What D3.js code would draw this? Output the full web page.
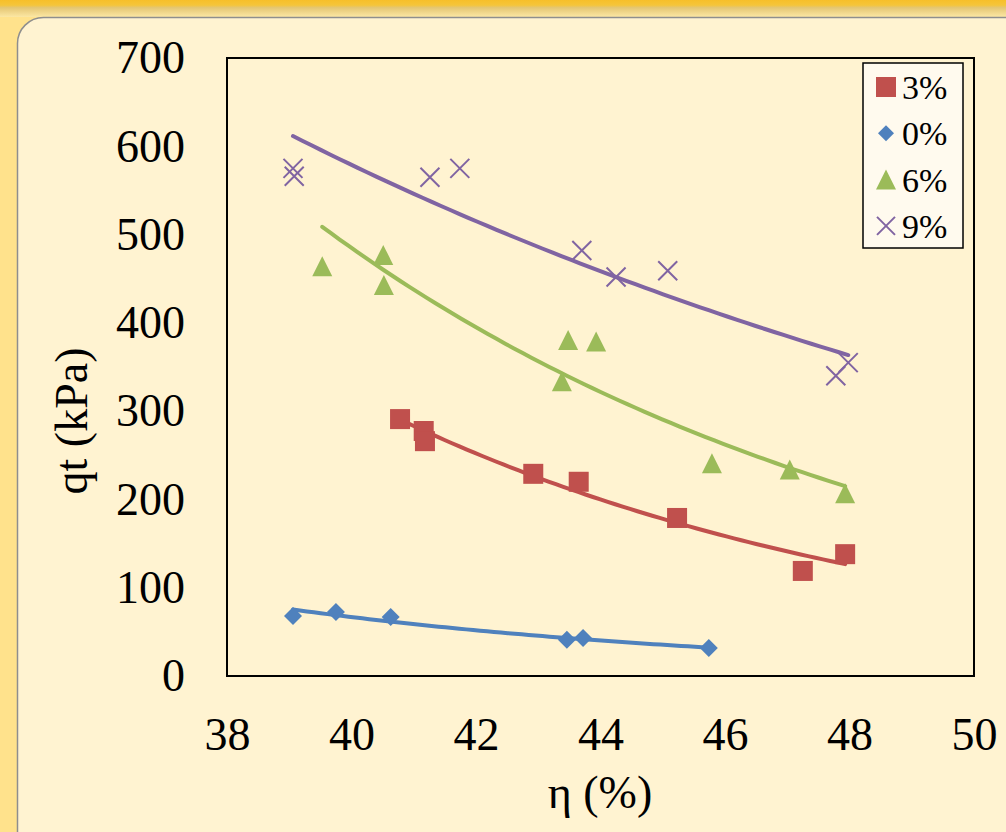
<!DOCTYPE html>
<html><head><meta charset="utf-8">
<script src="https://cdn.jsdelivr.net/npm/d3@7"></script>
<style>html,body{margin:0;padding:0;background:#FFE28C;}svg{display:block;}</style>
</head><body>
<svg id="c" width="1006" height="832"></svg>
<script>
// ---- data ----
const seriesNames = ["3%", "0%", "6%", "9%"];
const x3 = [40.78, 41.16, 41.18, 42.92, 43.65, 45.23, 47.25, 47.93];
const y3 = [291, 277.5, 266, 229, 220, 179, 119, 138];
const x0 = [39.06, 39.75, 40.63, 43.46, 43.72, 45.74];
const y0 = [68, 72.5, 66.8, 41, 43, 31.7];
const x6 = [39.53, 40.51, 40.52, 43.48, 43.93, 43.38, 45.79, 47.04, 47.93];
const y6 = [464, 477, 443, 380.5, 379, 334, 241, 234, 207];
const x9 = [39.06, 39.08, 41.26, 41.74, 43.70, 44.25, 45.08, 47.78, 47.98];
const y9 = [575, 566, 565, 575, 482, 452, 459, 340, 355];
const xTicks = [38, 40, 42, 44, 46, 48, 50];
const yTicks = [0, 100, 200, 300, 400, 500, 600, 700];

const colors = {"3%": "#C0504D", "0%": "#4F81BD", "6%": "#9BBB59", "9%": "#8064A2"};
const shapes = {"3%": "square", "0%": "diamond", "6%": "triangle", "9%": "cross"};
const series = [
  {name: "3%", xs: x3, ys: y3},
  {name: "0%", xs: x0, ys: y0},
  {name: "6%", xs: x6, ys: y6},
  {name: "9%", xs: x9, ys: y9}
];

const svg = d3.select("#c");
const W = 1006, H = 832;
const FONT = "'Liberation Serif','Times New Roman',serif";

// ---- background ----
const defs = svg.append("defs");
const g1 = defs.append("linearGradient").attr("id", "topg").attr("x1", 0).attr("y1", 0).attr("x2", 0).attr("y2", 1);
g1.append("stop").attr("offset", "0%").attr("stop-color", "#F7BF2A");
g1.append("stop").attr("offset", "30%").attr("stop-color", "#F5C53A");
g1.append("stop").attr("offset", "45%").attr("stop-color", "#E4C673");
g1.append("stop").attr("offset", "100%").attr("stop-color", "#FCE7A4");
svg.append("rect").attr("x", 0).attr("y", 0).attr("width", W).attr("height", H).attr("fill", "#FFE28C");
svg.append("rect").attr("x", 0).attr("y", 0).attr("width", W).attr("height", 17).attr("fill", "url(#topg)");
svg.append("rect").attr("x", 17.5).attr("y", 17.5).attr("width", W + 40).attr("height", H + 40)
  .attr("rx", 26).attr("ry", 26).attr("fill", "#FFF3D1").attr("stroke", "#8E8E8E").attr("stroke-width", 1.5);

// ---- scales ----
const x = d3.scaleLinear().domain([38, 50]).range([227, 974]);
const y = d3.scaleLinear().domain([0, 700]).range([676, 58]);

// plot area
svg.append("rect").attr("x", x(38)).attr("y", y(700)).attr("width", x(50) - x(38)).attr("height", y(0) - y(700))
  .attr("fill", "#FFF3D1").attr("stroke", "#000").attr("stroke-width", 2);

// axes
const xAxis = svg.append("g").attr("transform", `translate(0,${y(0)})`)
  .call(d3.axisBottom(x).tickValues(xTicks).tickSize(0).tickPadding(41).tickFormat(d3.format("d")));
const yAxis = svg.append("g").attr("transform", `translate(${x(38)},0)`)
  .call(d3.axisLeft(y).tickValues(yTicks).tickSize(0).tickPadding(42).tickFormat(d3.format("d")));
[xAxis, yAxis].forEach(a => {
  a.select(".domain").remove();
  a.selectAll("text").attr("font-family", FONT).attr("font-size", 46).attr("fill", "#000");
});

// axis titles
svg.append("text").attr("x", 600).attr("y", 808).attr("text-anchor", "middle")
  .attr("font-family", FONT).attr("font-size", 46).attr("fill", "#000").text("η (%)");
svg.append("text").attr("transform", "translate(87,421) rotate(-90)").attr("text-anchor", "middle")
  .attr("font-family", FONT).attr("font-size", 46).attr("fill", "#000").text("qt (kPa)");

// ---- trend lines (exponential least-squares fit) ----
function expFit(xs, ys) {
  const n = xs.length;
  const lx = xs, ly = ys.map(v => Math.log(v));
  const mx = d3.mean(lx), my = d3.mean(ly);
  let sxy = 0, sxx = 0;
  for (let i = 0; i < n; i++) { sxy += (lx[i] - mx) * (ly[i] - my); sxx += (lx[i] - mx) ** 2; }
  const b = sxy / sxx, a = my - b * mx;
  return v => Math.exp(a + b * v);
}
const line = d3.line().x(d => x(d[0])).y(d => y(d[1])).curve(d3.curveLinear);
series.forEach(s => {
  const f = expFit(s.xs, s.ys);
  const [lo, hi] = d3.extent(s.xs);
  const pts = d3.range(0, 61).map(i => { const v = lo + (hi - lo) * i / 60; return [v, f(v)]; });
  svg.append("path").attr("d", line(pts)).attr("fill", "none").attr("stroke", colors[s.name])
    .attr("stroke-width", 4).attr("stroke-linecap", "round");
});

// ---- markers ----
function marker(g, shape, cx, cy, sz, color) {
  if (shape === "square") {
    g.append("rect").attr("x", cx - sz / 2).attr("y", cy - sz / 2).attr("width", sz).attr("height", sz).attr("fill", color);
  } else if (shape === "diamond") {
    const r = sz / 2;
    g.append("path").attr("d", `M${cx},${cy - r}L${cx + r},${cy}L${cx},${cy + r}L${cx - r},${cy}Z`).attr("fill", color);
  } else if (shape === "triangle") {
    const r = sz / 2;
    g.append("path").attr("d", `M${cx},${cy - r}L${cx + r},${cy + r}L${cx - r},${cy + r}Z`).attr("fill", color);
  } else {
    const r = sz / 2;
    g.append("path").attr("d", `M${cx - r},${cy - r}L${cx + r},${cy + r}M${cx + r},${cy - r}L${cx - r},${cy + r}`)
      .attr("stroke", color).attr("stroke-width", 2).attr("fill", "none");
  }
}
const sizes = {square: 20, diamond: 18, triangle: 20, cross: 19};
const mg = svg.append("g");
series.forEach(s => {
  s.xs.forEach((v, i) => marker(mg, shapes[s.name], x(v), y(s.ys[i]), sizes[shapes[s.name]], colors[s.name]));
});

// ---- legend ----
const lg = svg.append("g");
lg.append("rect").attr("x", 863).attr("y", 63).attr("width", 100).attr("height", 185)
  .attr("fill", "#FFFAEE").attr("stroke", "#000").attr("stroke-width", 1.5);
const legSizes = {square: 20, diamond: 16, triangle: 20, cross: 18};
seriesNames.forEach((nm, i) => {
  const cy = 87 + i * 46.3;
  marker(lg, shapes[nm], 886, cy, legSizes[shapes[nm]], colors[nm]);
  lg.append("text").attr("x", 902).attr("y", cy + 12).attr("font-family", FONT).attr("font-size", 34)
    .attr("fill", "#000").text(nm);
});
</script>
</body></html>
